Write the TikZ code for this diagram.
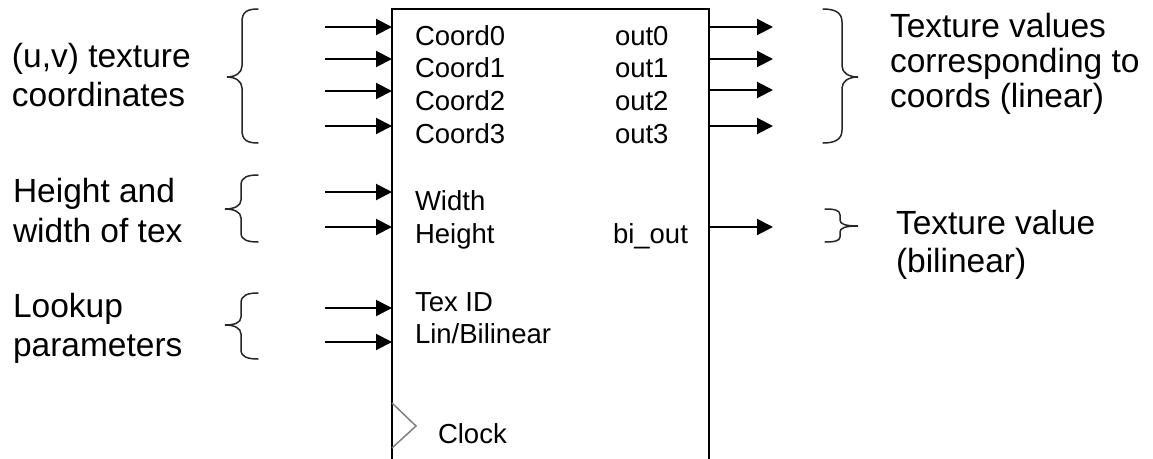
\documentclass[tikz,border=0pt]{standalone}
\usepackage{fontspec}
\setmainfont{Liberation Sans}
\usetikzlibrary{arrows.meta}
\tikzset{
  every node/.style={inner sep=0pt, outer sep=0pt},
  pin/.style={font=\fontsize{27.5pt}{31pt}\selectfont, anchor=base west},
  big/.style={font=\fontsize{33.5pt}{38pt}\selectfont, anchor=base west},
  arr/.style={line width=2pt, -{Triangle[length=16pt,width=16pt]}},
  brace/.style={line width=1.5pt, black!85, line cap=round},
  clk/.style={line width=1.5pt, black!50, line join=miter}
}
\begin{document}
\begin{tikzpicture}[x=1pt,y=-1pt]
\clip (0,0) rectangle (1153,458);
\fill[white] (0,0) rectangle (1153,458);
% block (open at the bottom, runs past the edge)
\node (blk) [draw, line width=2pt, minimum width=317pt, minimum height=469pt] at (550.5,243.5) {};
% input pin labels
\node[pin] (c0) at (415,45) {Coord0};
\node[pin] (c1) at (415,77) {Coord1};
\node[pin] (c2) at (415,110) {Coord2};
\node[pin] (c3) at (415,143) {Coord3};
\node[pin] (wd) at (415,210) {Width};
\node[pin] (ht) at (415,243) {Height};
\node[pin] (tid) at (415,311) {Tex ID};
\node[pin] (lb) at (415,343) {Lin/Bilinear};
\node[pin] (ck) at (438,443) {Clock};
% output pin labels
\node[pin] (o0l) at (615,45) {out0};
\node[pin] (o1l) at (615,77) {out1};
\node[pin] (o2l) at (615,110) {out2};
\node[pin] (o3l) at (615,143) {out3};
\node[pin] (bil) at (613,243) {bi\_out};
% input arrows
\coordinate (i0) at (325,27);
\coordinate (i1) at (325,59);
\coordinate (i2) at (325,91);
\coordinate (i3) at (325,126);
\coordinate (i4) at (325,192);
\coordinate (i5) at (325,227);
\coordinate (i6) at (325,308);
\coordinate (i7) at (325,342);
\foreach \n in {i0,i1,i2,i3,i4,i5,i6,i7}
  \draw[arr] (\n) -- (\n -| blk.west);
% output arrows
\coordinate (q0) at (773,27);
\coordinate (q1) at (773,59);
\coordinate (q2) at (773,90);
\coordinate (q3) at (773,126);
\coordinate (q4) at (773,227);
\foreach \n in {q0,q1,q2,q3,q4}
  \draw[arr] (\n -| blk.east) -- (\n);
% clock symbol
\draw[clk] (392,403) -- (416,426) -- (392,448);
% braces, left side
\draw[brace] (258,9) .. controls (247,9) and (242,12) .. (242,22) -- (242,66)
  .. controls (242,73) and (235,77) .. (227,77)
  .. controls (235,77) and (242,81) .. (242,88) -- (242,130)
  .. controls (242,140) and (247,143) .. (258,143);
\draw[brace] (258,175) .. controls (248,175) and (241,177) .. (241,185) -- (241,200)
  .. controls (241,206) and (234,209) .. (225,209)
  .. controls (234,209) and (241,212) .. (241,218) -- (241,233)
  .. controls (241,240) and (248,242) .. (258,242);
\draw[brace] (258,293) .. controls (248,293) and (241,295) .. (241,303) -- (241,317)
  .. controls (241,323) and (234,325) .. (225,325)
  .. controls (234,325) and (241,328) .. (241,334) -- (241,350)
  .. controls (241,357) and (248,359) .. (258,359);
% braces, right side
\draw[brace] (823,9) .. controls (834,9) and (842,12) .. (842,22) -- (842,66)
  .. controls (842,73) and (849,77) .. (858,77)
  .. controls (849,77) and (842,81) .. (842,88) -- (842,130)
  .. controls (842,140) and (834,143) .. (823,143);
\draw[brace] (825,209) .. controls (834,209) and (840,210) .. (840,215) -- (840,220)
  .. controls (840,224) and (845,226) .. (858,226)
  .. controls (845,226) and (840,228) .. (840,232) -- (840,237)
  .. controls (840,241) and (834,242) .. (825,242);
% descriptive texts
\node[big] (uv1) at (12,67) {(u,v) texture};
\node[big] (uv2) at (12,106) {coordinates};
\node[big] (hw1) at (13,202) {Height and};
\node[big] (hw2) at (13,242) {width of tex};
\node[big] (lp1) at (13,317) {Lookup};
\node[big] (lp2) at (13,356) {parameters};
\node[big] (tv1) at (890,37) {Texture values};
\node[big] (tv2) at (890,72) {corresponding to};
\node[big] (tv3) at (890,107) {coords (linear)};
\node[big] (tb1) at (896,234) {Texture value};
\node[big] (tb2) at (896,272) {(bilinear)};
\end{tikzpicture}
\end{document}
